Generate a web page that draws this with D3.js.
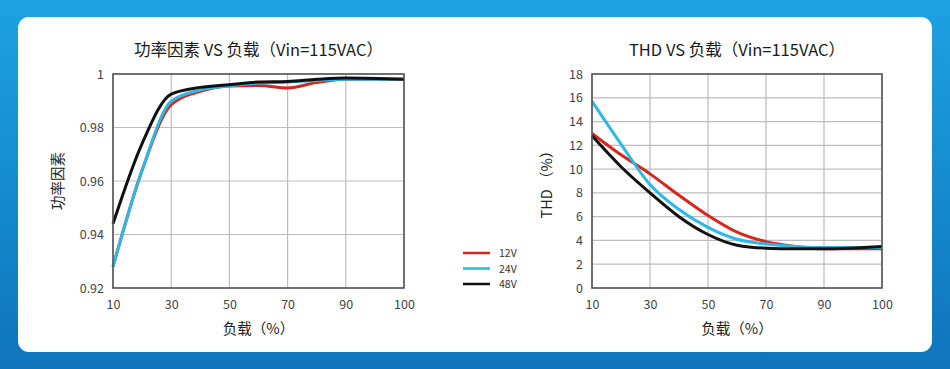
<!DOCTYPE html>
<html>
<head>
<meta charset="utf-8">
<script src="https://cdn.jsdelivr.net/npm/d3@7"></script>
<style>
  html, body { margin: 0; padding: 0; }
  body { width: 950px; height: 369px; overflow: hidden; }
  text { font-family: "Noto Sans CJK SC", "Noto Sans", sans-serif; }
</style>
</head>
<body>
<div id="chart"></div>
<script>
// x categories (load %), drawn evenly spaced
const loadTicks = [10, 30, 50, 70, 90, 100];
const loadPts = [10, 20, 30, 40, 50, 60, 70, 80, 90, 100];

// power factor
const pf12 = [0.928, 0.964, 0.9885, 0.9935, 0.9955, 0.9957, 0.9948, 0.9968, 0.998, 0.998];
const pf24 = [0.928, 0.964, 0.9898, 0.994, 0.9955, 0.9966, 0.997, 0.9976, 0.998, 0.998];
const pf48 = [0.944, 0.974, 0.9925, 0.995, 0.996, 0.997, 0.9972, 0.998, 0.9985, 0.998];
const pfTicks = [0.92, 0.94, 0.96, 0.98, 1];

// THD %
const thd12 = [13.0, 11.2, 9.6, 7.8, 6.1, 4.7, 3.9, 3.5, 3.3, 3.3];
const thd24 = [15.7, 12.1, 8.7, 6.6, 5.1, 4.1, 3.7, 3.5, 3.4, 3.4];
const thd48 = [12.8, 10.2, 8.0, 6.0, 4.5, 3.6, 3.35, 3.3, 3.3, 3.5];
const thdTicks = [0, 2, 4, 6, 8, 10, 12, 14, 16, 18];

const seriesNames = ["12V", "24V", "48V"];
const colors = ["#d8261e", "#2db8e6", "#111111"];

const W = 950, H = 369;
const svg = d3.select("#chart").append("svg")
    .attr("width", W).attr("height", H);

const defs = svg.append("defs");
const grad = defs.append("linearGradient").attr("id", "bg")
    .attr("x1", 0).attr("y1", 0).attr("x2", 0).attr("y2", 1);
grad.append("stop").attr("offset", "0%").attr("stop-color", "#1ca2e2");
grad.append("stop").attr("offset", "100%").attr("stop-color", "#0f74bc");
svg.append("rect").attr("width", W).attr("height", H).attr("fill", "url(#bg)");

svg.append("rect")
    .attr("x", 18).attr("y", 17).attr("width", 914).attr("height", 335)
    .attr("rx", 11).attr("fill", "#fff");

function drawPanel(opt) {
    const { left, top, width, height } = opt;
    const g = svg.append("g").attr("transform", "translate(" + left + "," + top + ")");

    // piecewise scale so ticks 10..100 sit evenly
    const x = d3.scaleLinear()
        .domain(loadTicks)
        .range(loadTicks.map((d, i) => i * width / (loadTicks.length - 1)));
    const y = d3.scaleLinear().domain(opt.yDomain).range([height, 0]);

    // grid
    g.append("g").selectAll("line").data(loadTicks).join("line")
        .attr("x1", d => x(d)).attr("x2", d => x(d))
        .attr("y1", 0).attr("y2", height)
        .attr("stroke", "#bdbdbd").attr("stroke-width", 1.2);
    g.append("g").selectAll("line").data(opt.yTicks).join("line")
        .attr("x1", 0).attr("x2", width)
        .attr("y1", d => y(d)).attr("y2", d => y(d))
        .attr("stroke", "#bdbdbd").attr("stroke-width", 1.2);

    // axes
    const xAxis = g.append("g").attr("transform", "translate(0," + height + ")")
        .call(d3.axisBottom(x).tickValues(loadTicks).tickSize(0).tickPadding(12).tickFormat(d3.format("d")));
    const yAxis = g.append("g")
        .call(d3.axisLeft(y).tickValues(opt.yTicks).tickSize(0).tickPadding(9).tickFormat(opt.yFormat));
    [xAxis, yAxis].forEach(a => {
        a.select(".domain").remove();
        a.selectAll("text").attr("fill", "#444").attr("font-size", 12.5)
            .style("font-family", "'Noto Sans CJK SC', sans-serif");
    });

    // lines
    const line = d3.line()
        .x((d, i) => x(loadPts[i]))
        .y(d => y(d))
        .curve(d3.curveMonotoneX);
    opt.series.forEach((s, i) => {
        g.append("path").datum(s)
            .attr("fill", "none")
            .attr("stroke", colors[i])
            .attr("stroke-width", 3)
            .attr("d", line);
    });

    // frame
    g.append("rect").attr("width", width).attr("height", height)
        .attr("fill", "none").attr("stroke", "#555").attr("stroke-width", 1.6);

    // titles
    g.append("text").attr("x", width / 2).attr("y", -18)
        .attr("text-anchor", "middle").attr("font-size", 16.5).attr("fill", "#1a1a1a")
        .text(opt.title);
    g.append("text").attr("x", width / 2).attr("y", height + 46)
        .attr("text-anchor", "middle").attr("font-size", 14.5).attr("fill", "#222")
        .text("负载（%）");
    g.append("text")
        .attr("transform", "translate(" + opt.yLabelX + "," + (height / 2) + ") rotate(-90)")
        .attr("text-anchor", "middle").attr("font-size", 14.5).attr("fill", "#222")
        .text(opt.yLabel);
}

drawPanel({
    left: 113, top: 74, width: 291, height: 214,
    yDomain: [0.92, 1], yTicks: pfTicks, yFormat: d => d === 1 ? "1" : d3.format(".2f")(d),
    series: [pf12, pf24, pf48],
    title: "功率因素 VS 负载（Vin=115VAC）", yLabel: "功率因素", yLabelX: -50
});

drawPanel({
    left: 592, top: 74, width: 290, height: 214,
    yDomain: [0, 18], yTicks: thdTicks, yFormat: d3.format("d"),
    series: [thd12, thd24, thd48],
    title: "THD VS 负载（Vin=115VAC）", yLabel: "THD （%）", yLabelX: -40
});

// legend
const legend = svg.append("g").attr("transform", "translate(463,253)");
seriesNames.forEach((name, i) => {
    const row = legend.append("g").attr("transform", "translate(0," + i * 15.5 + ")");
    row.append("line").attr("x1", 0).attr("x2", 27).attr("y1", 0).attr("y2", 0)
        .attr("stroke", colors[i]).attr("stroke-width", 2.5);
    row.append("text").attr("x", 36).attr("y", 4).attr("font-size", 10.5).attr("fill", "#333")
        .text(name);
});
</script>
</body>
</html>
